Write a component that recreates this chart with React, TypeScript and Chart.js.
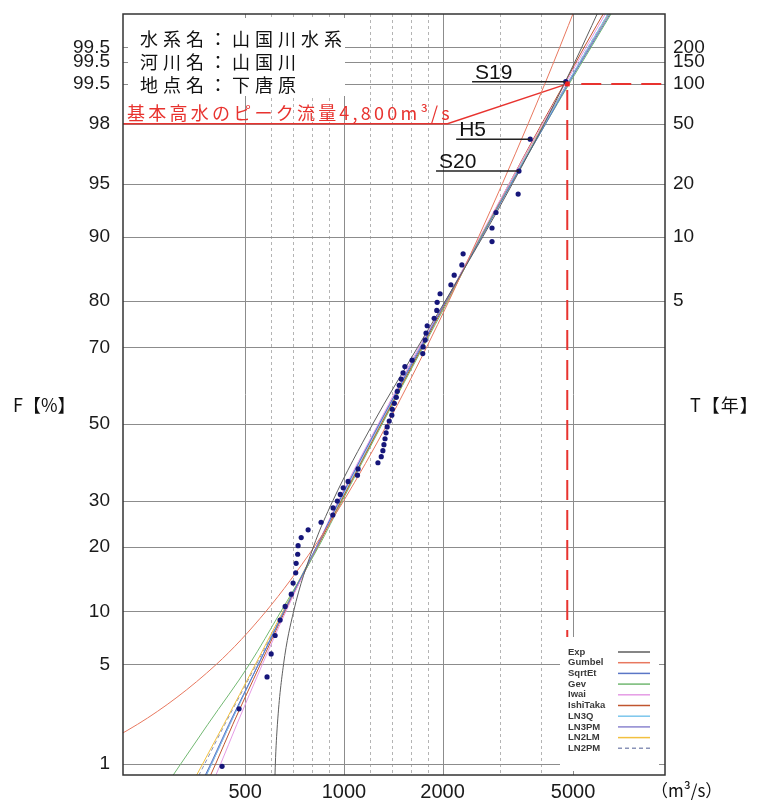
import React, { useEffect, useRef } from 'react';
import { Chart, registerables } from 'chart.js';

Chart.register(...registerables);

// ---------------- data ----------------
// observed annual peak discharges (m3/s), sorted descending, with plotting position F (%)
const OBS_Q = [4750, 3700, 3420, 3400, 2910, 2830, 2830, 2310, 2290, 2170, 2120, 1965, 1925, 1920, 1885, 1795, 1780, 1770, 1745, 1740, 1615, 1535, 1515, 1495, 1475, 1455, 1445, 1425, 1405, 1400, 1375, 1355, 1345, 1335, 1325, 1315, 1300, 1270, 1105, 1100, 1030, 995, 975, 955, 927, 925, 852, 778, 741, 725, 723, 715, 713, 700, 691, 662, 639, 617, 600, 583, 479, 425];
const OBS_F = [99.04, 97.43, 95.82, 94.21, 92.60, 91.00, 89.39, 87.78, 86.17, 84.57, 82.96, 81.35, 79.74, 78.14, 76.53, 74.92, 73.31, 71.70, 70.10, 68.49, 66.88, 65.27, 63.67, 62.06, 60.45, 58.84, 57.23, 55.63, 54.02, 52.41, 50.80, 49.20, 47.59, 45.98, 44.37, 42.77, 41.16, 39.55, 37.94, 36.33, 34.73, 33.12, 31.51, 29.90, 28.30, 26.69, 25.08, 23.47, 21.86, 20.26, 18.65, 17.04, 15.43, 13.83, 12.22, 10.61, 9.00, 7.40, 5.79, 4.18, 2.57, 0.96];

const MARK_LABELS = ['S19', 'H5', 'S20'];
const MARK_INDEX = [0, 1, 2];
const MARK_START_Q = [2460, 2200, 1910];

const PEAK_Q = 4800;
const PEAK_F = 99;
const PEAK_LABEL = '基本高水のピーク流量4,800m³/s';
const PEAK_BEND_Q = 2070;
const PEAK_LINE_F = 98;

const HEADER_LINES = ['水系名：山国川水系', '河川名：山国川', '地点名：下唐原'];

// fitted distribution curves: discharge at each non-exceedance probability
const CURVE_F = [0.5, 1, 2, 5, 10, 20, 30, 50, 70, 80, 90, 95, 98, 99, 99.5, 99.8];
const Q_EXP = [613.5, 617.9, 627, 654.5, 702.6, 807, 925.7, 1224.5, 1678, 2038, 2654, 3269, 4083, 4698, 5314, 6128];
const Q_GUMBEL = [39, 129.5, 235, 408, 578.6, 811, 999, 1356.5, 1787, 2091, 2577, 3044, 3647, 4100, 4551, 5145];
const Q_SQRTET = [346.4, 392.1, 445.9, 548.3, 656.3, 824.8, 968.4, 1282, 1718, 2048, 2637, 3241, 4126, 4831, 5632, 6780];
const Q_GEV = [267.1, 317.7, 384.8, 514.7, 642.7, 836.4, 989, 1309, 1742, 2077, 2619, 3241, 4126, 4865, 5672, 6827];
const Q_IWAI = [376.9, 420.6, 471.7, 563.9, 665.6, 824.8, 961.6, 1273, 1694, 2048, 2601, 3195, 4041, 4731, 5476, 6546];
const Q_ISHITAKA = [361.3, 406.1, 458.6, 556.1, 660.9, 830.6, 982.0, 1300, 1730, 2062, 2619, 3195, 4012, 4698, 5400, 6455];
const Q_LN3Q = [351.3, 394.8, 449.0, 548.3, 656.3, 824.8, 975.2, 1291, 1718, 2048, 2619, 3218, 4097, 4797, 5554, 6685];
const Q_LN3PM = [348.9, 394.8, 449.0, 548.3, 656.3, 824.8, 968.4, 1282, 1706, 2048, 2619, 3241, 4097, 4797, 5593, 6685];
const Q_LN2LM = [322.9, 370.6, 430.5, 536.9, 651.7, 824.8, 982.0, 1300, 1730, 2048, 2619, 3218, 4069, 4797, 5593, 6732];
const Q_LN2PM = [329.8, 375.9, 433.6, 540.7, 656.3, 824.8, 982.0, 1300, 1730, 2048, 2619, 3218, 4069, 4797, 5554, 6685];

const SERIES_NAMES = ['Exp', 'Gumbel', 'SqrtEt', 'Gev', 'Iwai', 'IshiTaka', 'LN3Q', 'LN3PM', 'LN2LM', 'LN2PM'];
const SERIES_Q = [Q_EXP, Q_GUMBEL, Q_SQRTET, Q_GEV, Q_IWAI, Q_ISHITAKA, Q_LN3Q, Q_LN3PM, Q_LN2LM, Q_LN2PM];
const SERIES_COLORS = ['#5e5e5e', '#e8785f', '#5a76c6', '#72b872', '#e59be5', '#c0552e', '#7cc6ec', '#8c86cf', '#f2c040', '#8a93b8'];

// axes
const LEFT_TICK_F = [1, 5, 10, 20, 30, 50, 70, 80, 90, 95, 98, 99, 99.3333, 99.5];
const LEFT_TICK_LABELS = ['1', '5', '10', '20', '30', '50', '70', '80', '90', '95', '98', '99.5', '99.5', '99.5'];
const RIGHT_TICK_T = [5, 10, 20, 50, 100, 150, 200];
const X_LABEL_TICKS = [500, 1000, 2000, 5000];
const X_GRID_MINOR = [600, 700, 800, 900, 1200, 1400, 1600, 1800, 3000, 4000];
const X_MIN = 212;
const X_MAX = 9535;
const F_MIN = 0.818;
const F_MAX = 99.748;

// ---------------- helpers ----------------
function probit(p: number): number {
  const a = [-3.969683028665376e1, 2.209460984245205e2, -2.759285104469687e2, 1.38357751867269e2, -3.066479806614716e1, 2.506628277459239];
  const b = [-5.447609879822406e1, 1.615858368580409e2, -1.556989798598866e2, 6.680131188771972e1, -1.328068155288572e1];
  const c = [-7.784894002430293e-3, -3.223964580411365e-1, -2.400758277161838, -2.549732539343734, 4.374664141464968, 2.938163982698783];
  const d = [7.784695709041462e-3, 3.224671290700398e-1, 2.445134137142996, 3.754408661907416];
  const pl = 0.02425;
  if (p < pl) {
    const q = Math.sqrt(-2 * Math.log(p));
    return (((((c[0] * q + c[1]) * q + c[2]) * q + c[3]) * q + c[4]) * q + c[5]) / ((((d[0] * q + d[1]) * q + d[2]) * q + d[3]) * q + 1);
  }
  if (p <= 1 - pl) {
    const q = p - 0.5;
    const r = q * q;
    return ((((((a[0] * r + a[1]) * r + a[2]) * r + a[3]) * r + a[4]) * r + a[5]) * q) / (((((b[0] * r + b[1]) * r + b[2]) * r + b[3]) * r + b[4]) * r + 1);
  }
  const q = Math.sqrt(-2 * Math.log(1 - p));
  return -(((((c[0] * q + c[1]) * q + c[2]) * q + c[3]) * q + c[4]) * q + c[5]) / ((((d[0] * q + d[1]) * q + d[2]) * q + d[3]) * q + 1);
}
const zOf = (f: number) => probit(f / 100);

const CJK = '"Noto Sans CJK JP", "Noto Sans", sans-serif';
const LATIN = '"Liberation Sans", Arial, sans-serif';

function setSpacing(ctx: any, px: number) {
  if ('letterSpacing' in ctx) ctx.letterSpacing = px + 'px';
}
function spacingFor(ctx: any, text: string, target: number) {
  setSpacing(ctx, 0);
  const w = ctx.measureText(text).width;
  return Math.max(0, (target - w) / Array.from(text).length);
}

const decor = {
  id: 'decor',
  beforeDatasetsDraw(chart: any) {
    const { ctx, chartArea: ca, scales } = chart;
    const xs = scales.x;
    const ys = scales.y;
    const yOf = (f: number) => ys.getPixelForValue(zOf(f));
    ctx.save();
    ctx.beginPath();
    ctx.rect(ca.left, ca.top, ca.right - ca.left, ca.bottom - ca.top);
    ctx.clip();
    const vline = (px: number) => {
      ctx.beginPath();
      ctx.moveTo(px, ca.top);
      ctx.lineTo(px, ca.bottom);
      ctx.stroke();
    };
    ctx.lineWidth = 1;
    ctx.strokeStyle = '#b4b4b4';
    ctx.setLineDash([3, 3]);
    X_GRID_MINOR.forEach((v) => vline(Math.round(xs.getPixelForValue(v)) + 0.5));
    ctx.setLineDash([]);
    ctx.strokeStyle = '#8c8c8c';
    X_LABEL_TICKS.forEach((v) => vline(Math.round(xs.getPixelForValue(v)) + 0.5));
    LEFT_TICK_F.forEach((f) => {
      const py = Math.round(yOf(f)) + 0.5;
      ctx.beginPath();
      ctx.moveTo(ca.left, py);
      ctx.lineTo(ca.right, py);
      ctx.stroke();
    });

    // design flood annotation (red)
    const px = xs.getPixelForValue(PEAK_Q);
    const py = yOf(PEAK_F);
    const yl = yOf(PEAK_LINE_F);
    const xb = xs.getPixelForValue(PEAK_BEND_Q);
    ctx.strokeStyle = '#e8332f';
    ctx.lineWidth = 1.5;
    ctx.beginPath();
    ctx.moveTo(ca.left, yl);
    ctx.lineTo(xb, yl);
    ctx.lineTo(px, py);
    ctx.stroke();
    ctx.lineWidth = 2;
    ctx.setLineDash([20, 10]);
    ctx.beginPath();
    ctx.moveTo(px + 14, py);
    ctx.lineTo(ca.right, py);
    ctx.moveTo(px, py + 6);
    ctx.lineTo(px, ca.bottom);
    ctx.stroke();
    ctx.setLineDash([]);

    // white boxes: header and legend
    ctx.fillStyle = '#ffffff';
    ctx.fillRect(ca.left + 5, ca.top + 4, 217, 78);
    ctx.fillRect(ca.right - 105, ca.bottom - 138, 99, 134);
    ctx.restore();
  },
  afterDatasetsDraw(chart: any) {
    const { ctx, chartArea: ca, scales } = chart;
    const xs = scales.x;
    const ys = scales.y;
    const yOf = (f: number) => ys.getPixelForValue(zOf(f));
    ctx.save();

    // leader lines and event labels
    MARK_LABELS.forEach((lab, i) => {
      const k = MARK_INDEX[i];
      const yy = yOf(OBS_F[k]);
      const x0 = xs.getPixelForValue(MARK_START_Q[i]);
      const x1 = xs.getPixelForValue(OBS_Q[k]);
      ctx.strokeStyle = '#222';
      ctx.lineWidth = 1.5;
      ctx.beginPath();
      ctx.moveTo(x0, yy);
      ctx.lineTo(x1, yy);
      ctx.stroke();
      ctx.fillStyle = '#111';
      ctx.font = `21px ${LATIN}`;
      ctx.textAlign = 'left';
      ctx.textBaseline = 'alphabetic';
      ctx.fillText(lab, x0 + 3, yy - 3);
    });

    // header text
    ctx.fillStyle = '#111';
    ctx.font = `18px ${CJK}`;
    ctx.textAlign = 'left';
    ctx.textBaseline = 'middle';
    const sp = spacingFor(ctx, HEADER_LINES[0], 207);
    setSpacing(ctx, sp);
    HEADER_LINES.forEach((t, i) => ctx.fillText(t, ca.left + 17, ca.top + 25 + i * 23));

    // red label
    ctx.fillStyle = '#e8332f';
    ctx.font = `18px ${CJK}`;
    const sp2 = spacingFor(ctx, PEAK_LABEL, 326);
    setSpacing(ctx, sp2);
    ctx.fillText(PEAK_LABEL, ca.left + 4, yOf(PEAK_LINE_F) - 11);
    setSpacing(ctx, 0);

    // legend
    const curves = chart.data.datasets.filter((d: any) => d.isCurve);
    const lx = ca.right - 97;
    const ly = ca.bottom - 123;
    curves.forEach((d: any, i: number) => {
      const yy = ly + i * 10.7;
      ctx.fillStyle = '#3a3a3a';
      ctx.font = `bold 9.5px ${LATIN}`;
      ctx.textBaseline = 'middle';
      ctx.fillText(d.label, lx, yy);
      ctx.strokeStyle = d.borderColor;
      ctx.lineWidth = 1.5;
      ctx.setLineDash(d.borderDash && d.borderDash.length ? [4, 3] : []);
      ctx.beginPath();
      ctx.moveTo(ca.right - 47, yy);
      ctx.lineTo(ca.right - 15, yy);
      ctx.stroke();
    });
    ctx.setLineDash([]);

    // frame
    ctx.strokeStyle = '#333';
    ctx.lineWidth = 1.5;
    ctx.strokeRect(ca.left, ca.top, ca.right - ca.left, ca.bottom - ca.top);

    // axis titles
    ctx.fillStyle = '#111';
    ctx.font = `18px ${CJK}`;
    ctx.textBaseline = 'middle';
    ctx.textAlign = 'left';
    ctx.fillText('F【%】', 13, 405);
    setSpacing(ctx, 1);
    ctx.fillText('T【年】', ca.right + 25, 405);
    setSpacing(ctx, 0);
    ctx.font = `17px ${CJK}`;
    ctx.fillText('（m³/s）', ca.right - 14, 791);
    ctx.restore();
  },
};

const noVPad = (w: number) => (s: any) => {
  s.width = w;
  s.paddingTop = 0;
  s.paddingBottom = 0;
};

export default function App() {
  const ref = useRef<HTMLCanvasElement | null>(null);
  useEffect(() => {
    if (!ref.current) return;
    const datasets: any[] = [];
    datasets.push({
      label: 'peak',
      data: [{ x: PEAK_Q, y: zOf(PEAK_F) }],
      pointStyle: 'rect',
      pointRadius: 3.5,
      pointBackgroundColor: '#ee2222',
      pointBorderWidth: 0,
      showLine: false,
      order: 0,
    });
    datasets.push({
      label: 'obs',
      data: OBS_Q.map((q, i) => ({ x: q, y: zOf(OBS_F[i]) })),
      pointRadius: 2.6,
      pointBackgroundColor: '#16167a',
      pointBorderWidth: 0,
      showLine: false,
      order: 1,
    });
    SERIES_NAMES.forEach((name, i) => {
      datasets.push({
        label: name,
        isCurve: true,
        data: CURVE_F.map((f, j) => ({ x: SERIES_Q[i][j], y: zOf(f) })),
        showLine: true,
        pointRadius: 0,
        borderColor: SERIES_COLORS[i],
        borderWidth: 1,
        borderDash: name === 'LN2PM' ? [4, 3] : [],
        cubicInterpolationMode: 'monotone',
        order: 2 + i,
      });
    });

    const numFont = { family: LATIN, size: 19 };
    const chart = new Chart(ref.current, {
      type: 'scatter',
      data: { datasets },
      options: {
        animation: false,
        responsive: true,
        maintainAspectRatio: false,
        events: [],
        layout: { padding: { top: 14, left: 0, right: 0, bottom: 0 } },
        plugins: { legend: { display: false }, tooltip: { enabled: false } },
        scales: {
          x: {
            type: 'logarithmic',
            min: X_MIN,
            max: X_MAX,
            grid: { display: false, drawTicks: false },
            border: { display: false },
            afterBuildTicks: (s: any) => {
              s.ticks = X_LABEL_TICKS.map((v) => ({ value: v }));
            },
            afterFit: (s: any) => {
              s.height = 28;
              s.paddingLeft = 0;
              s.paddingRight = 0;
            },
            ticks: {
              autoSkip: false,
              maxRotation: 0,
              padding: 5,
              color: '#1a1a1a',
              font: { family: LATIN, size: 20 },
              callback: (v: any) => String(v),
            },
          },
          y: {
            type: 'linear',
            position: 'left',
            min: zOf(F_MIN),
            max: zOf(F_MAX),
            grid: { display: false, drawTicks: false },
            border: { display: false },
            afterBuildTicks: (s: any) => {
              s.ticks = LEFT_TICK_F.map((f) => ({ value: zOf(f) }));
            },
            afterFit: noVPad(123),
            ticks: {
              autoSkip: false,
              padding: 13,
              color: '#1a1a1a',
              font: numFont,
              callback: (_v: any, i: number) => LEFT_TICK_LABELS[i],
            },
          },
          yR: {
            type: 'linear',
            position: 'right',
            min: zOf(F_MIN),
            max: zOf(F_MAX),
            grid: { display: false, drawTicks: false },
            border: { display: false },
            afterBuildTicks: (s: any) => {
              s.ticks = RIGHT_TICK_T.map((t) => ({ value: probit(1 - 1 / t) }));
            },
            afterFit: noVPad(103),
            ticks: {
              autoSkip: false,
              padding: 8,
              color: '#1a1a1a',
              font: numFont,
              callback: (_v: any, i: number) => String(RIGHT_TICK_T[i]),
            },
          },
        },
      } as any,
      plugins: [decor],
    });
    return () => chart.destroy();
  }, []);

  return (
    <div style={{ position: 'absolute', left: 0, top: 0, width: 768, height: 803, background: '#fff' }}>
      <canvas ref={ref} />
    </div>
  );
}
